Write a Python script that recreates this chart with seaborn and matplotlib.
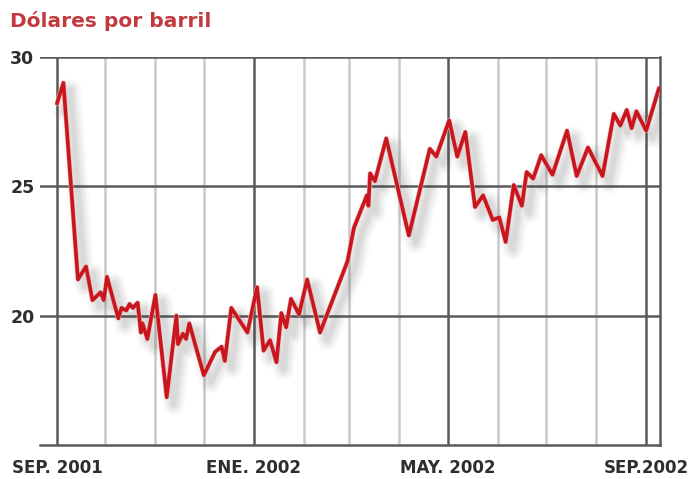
import matplotlib
matplotlib.use("Agg")
import matplotlib.pyplot as plt
import matplotlib.patheffects as pe
import matplotlib.dates as mdates
import seaborn as sns
import pandas as pd

# precio del barril (lectura aproximada del gráfico)
fechas = [
    "2001-09-01", "2001-09-05", "2001-09-14", "2001-09-19", "2001-09-23", "2001-09-28",
    "2001-09-30", "2001-10-02", "2001-10-09", "2001-10-11", "2001-10-14", "2001-10-16",
    "2001-10-18", "2001-10-21", "2001-10-23", "2001-10-24", "2001-10-27", "2001-11-01",
    "2001-11-08", "2001-11-14", "2001-11-15", "2001-11-18", "2001-11-20", "2001-11-22",
    "2001-12-01", "2001-12-08", "2001-12-12", "2001-12-14", "2001-12-18", "2001-12-28",
    "2002-01-03", "2002-01-07", "2002-01-11", "2002-01-15", "2002-01-18", "2002-01-21",
    "2002-01-24", "2002-01-29", "2002-02-03", "2002-02-11", "2002-02-28", "2002-03-04",
    "2002-03-12", "2002-03-13", "2002-03-14", "2002-03-17", "2002-03-24", "2002-04-07",
    "2002-04-20", "2002-04-24", "2002-05-02", "2002-05-07", "2002-05-12", "2002-05-18",
    "2002-05-23", "2002-05-29", "2002-06-02", "2002-06-06", "2002-06-11", "2002-06-16",
    "2002-06-19", "2002-06-23", "2002-06-28", "2002-07-05", "2002-07-14", "2002-07-20",
    "2002-07-27", "2002-08-05", "2002-08-12", "2002-08-16", "2002-08-20", "2002-08-23",
    "2002-08-26", "2002-09-01", "2002-09-09",
]
precios = [
    28.2, 29.0, 21.4, 21.9, 20.6, 20.9,
    20.6, 21.5, 19.9, 20.3, 20.2, 20.45,
    20.3, 20.5, 19.35, 19.7, 19.1, 20.8,
    16.85, 20.0, 18.9, 19.3, 19.1, 19.7,
    17.7, 18.6, 18.8, 18.25, 20.3, 19.35,
    21.1, 18.65, 19.05, 18.2, 20.1, 19.55,
    20.65, 20.05, 21.4, 19.35, 22.1, 23.4,
    24.65, 24.25, 25.5, 25.2, 26.85, 23.1,
    26.45, 26.15, 27.55, 26.15, 27.1, 24.2,
    24.65, 23.7, 23.8, 22.85, 25.05, 24.25,
    25.55, 25.3, 26.2, 25.45, 27.15, 25.4,
    26.5, 25.4, 27.8, 27.35, 27.95, 27.25,
    27.9, 27.15, 28.8,
]
etiquetas_x = ["SEP. 2001", "ENE. 2002", "MAY. 2002", "SEP.2002"]
fechas_etiquetas = ["2001-09-01", "2002-01-01", "2002-05-01", "2002-09-01"]
marcas_y = [20, 25, 30]

df = pd.DataFrame({"fecha": pd.to_datetime(fechas), "precio": precios})

sns.set_theme(style="white")
plt.rcParams["font.family"] = ["DejaVu Sans"]

fig = plt.figure(figsize=(6.92, 4.79), dpi=100)
ax = fig.add_axes([40 / 692, 1 - 445 / 479, 620 / 692, 388 / 479])

rojo = "#c8161e"
sns.lineplot(data=df, x="fecha", y="precio", ax=ax, color=rojo, linewidth=2.6, zorder=5)
linea = ax.get_lines()[0]
# sombra difusa: varias capas finas
sombra = [pe.SimpleLineShadow(offset=(5, -5), shadow_color="#505050", alpha=0.028, linewidth=w)
          for w in (16, 13, 11, 9, 7, 5.5, 4, 3)]
linea.set_path_effects(sombra + [pe.Stroke(linewidth=3.4, foreground="#f0b0b0"), pe.Normal()])

inicio = pd.Timestamp("2001-09-01")
ax.set_xlim(mdates.date2num(inicio) - 10.5, mdates.date2num(inicio) + 373.6)
ax.set_ylim(15, 30)

# rejilla mensual
meses = pd.date_range("2001-09-01", "2002-09-01", freq="MS")
for m in meses:
    if m.strftime("%Y-%m-%d") in fechas_etiquetas:
        ax.axvline(m, color="#5a5a5a", linewidth=1.8, zorder=2)
    else:
        ax.axvline(m, color="#c9c9c9", linewidth=1.8, zorder=1)
for v in marcas_y:
    ax.axhline(v, color="#5a5a5a", linewidth=1.8, zorder=2)

ax.set_xticks(pd.to_datetime(fechas_etiquetas))
ax.set_xticklabels(etiquetas_x, fontsize=12, fontweight="bold", color="#2e2e2e")
ax.set_yticks(marcas_y)
ax.set_yticklabels([str(v) for v in marcas_y], fontsize=12.5, fontweight="bold", color="#2e2e2e")
ax.tick_params(axis="both", length=0)
ax.tick_params(axis="x", pad=10)
ax.tick_params(axis="y", pad=4)
ax.set_xlabel("")
ax.set_ylabel("")

for s in ["left", "top"]:
    ax.spines[s].set_visible(False)
for s in ["right", "bottom"]:
    ax.spines[s].set_color("#5a5a5a")
    ax.spines[s].set_linewidth(1.8)

fig.text(10 / 692, 1 - 21 / 479, "Dólares por barril", fontsize=14.5, fontweight="bold",
         color="#c23a40", va="center", ha="left")

fig.savefig("out.png", dpi=100)
